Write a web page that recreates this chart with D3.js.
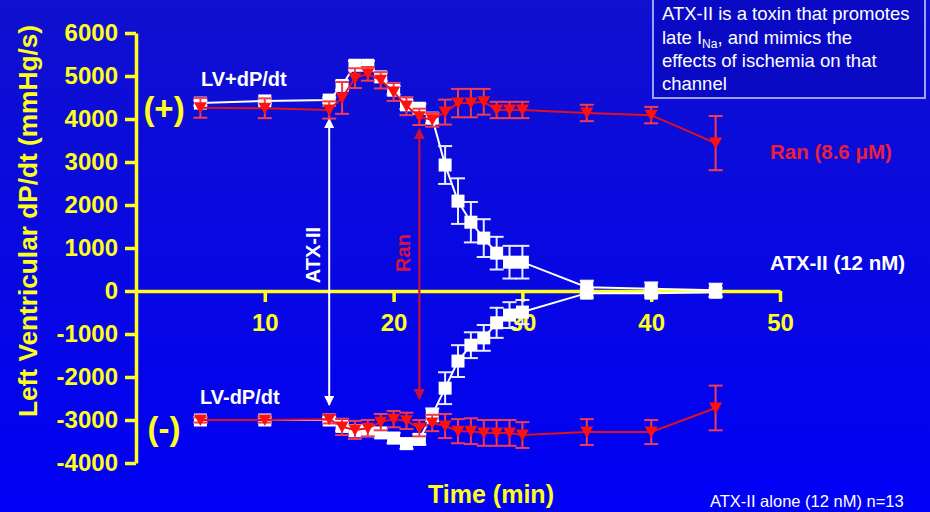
<!DOCTYPE html>
<html><head><meta charset="utf-8">
<script src="https://cdn.jsdelivr.net/npm/d3@7"></script>
<style>html,body{margin:0;padding:0;overflow:hidden;background:#0000ee}</style>
</head><body>
<script>
const times = [5,10,15,16,17,18,19,20,21,22,23,24,25,26,27,28,29,30,35,40,45];
const atxPos    = [4370,4420,4440,4780,5250,5250,4980,4670,4330,4250,4020,2930,2090,1600,1230,880,670,670,90,50,20];
const atxPosErr = [60,60,60,100,100,100,100,100,100,100,120,440,530,470,440,380,380,380,150,150,150];
const atxNeg    = [-3000,-3000,-3000,-3150,-3250,-3250,-3300,-3420,-3550,-3450,-2880,-2260,-1630,-1260,-1090,-740,-560,-490,-50,-50,-30];
const atxNegErr = [60,60,60,100,100,100,100,120,120,120,150,370,370,300,300,350,300,280,100,100,100];
const ranPos    = [4260,4250,4210,4490,4950,5050,4900,4630,4300,4050,3980,4160,4370,4370,4400,4210,4210,4210,4140,4090,3440];
const ranPosErr = [230,230,200,370,230,160,190,210,210,190,160,290,330,330,300,190,190,190,190,190,630];
const ranNeg    = [-3000,-3000,-2980,-3160,-3230,-3190,-3050,-2980,-3020,-3190,-3070,-3140,-3260,-3260,-3300,-3300,-3300,-3350,-3280,-3280,-2720];
const ranNegErr = [60,60,100,190,210,190,190,190,190,190,190,280,280,300,300,300,300,300,300,280,520];
const yTicks = [6000,5000,4000,3000,2000,1000,0,-1000,-2000,-3000,-4000];
const xTicks = [10,20,30,40,50];
const noteLines = ["ATX-II is a toxin that promotes", "late I", "effects of ischemia on that", "channel"];

const W = 930, H = 512;
const YEL = "#ffff1a", FONT = "'Liberation Sans', Arial, sans-serif";
const svg = d3.select("body").append("svg").attr("width", W).attr("height", H)
  .style("font-family", FONT);
const defs = svg.append("defs");
const grad = defs.append("linearGradient").attr("id","bg").attr("x1",0).attr("y1",0).attr("x2",0).attr("y2",1);
grad.append("stop").attr("offset","0%").attr("stop-color","#1010cf");
grad.append("stop").attr("offset","100%").attr("stop-color","#0000f5");
svg.append("rect").attr("width",W).attr("height",H).attr("fill","url(#bg)");

const x = d3.scaleLinear().domain([0,50]).range([136,780]);
const y = d3.scaleLinear().domain([-4000,6000]).range([463,33]);

// axes
const yAxis = svg.append("g").attr("transform",`translate(${x(0)},0)`)
  .call(d3.axisLeft(y).tickValues(yTicks).tickFormat(d => String(d)).tickSize(11).tickSizeOuter(0).tickPadding(7));
const xAxis = svg.append("g").attr("transform",`translate(0,${y(0)})`)
  .call(d3.axisBottom(x).tickValues(xTicks).tickFormat(d => String(d)).tickSize(11).tickSizeOuter(0).tickPadding(12));
[yAxis, xAxis].forEach(g => {
  g.selectAll("path,line").attr("stroke", YEL).attr("stroke-width", 3.5);
  g.selectAll("text").attr("fill", YEL).attr("font-size", 24).attr("font-weight","bold").attr("font-family",FONT);
});

// axis titles
svg.append("text").attr("transform",`translate(37,221) rotate(-90)`).attr("text-anchor","middle")
  .attr("fill",YEL).attr("font-size",25).attr("font-weight","bold")
  .attr("textLength",392).attr("lengthAdjust","spacingAndGlyphs").text("Left Ventricular dP/dt (mmHg/s)");
svg.append("text").attr("x",491).attr("y",503).attr("text-anchor","middle")
  .attr("fill",YEL).attr("font-size",25).attr("font-weight","bold").text("Time (min)");

// (+) / (-)
svg.append("text").attr("x",164).attr("y",120).attr("text-anchor","middle").attr("fill",YEL)
  .attr("font-size",33).attr("font-weight","bold").text("(+)");
svg.append("text").attr("x",164).attr("y",440).attr("text-anchor","middle").attr("fill",YEL)
  .attr("font-size",33).attr("font-weight","bold").text("(-)");
svg.append("text").attr("x",201).attr("y",86).attr("fill","#ffffff").attr("font-size",20).attr("font-weight","bold").text("LV+dP/dt");
svg.append("text").attr("x",200).attr("y",404).attr("fill","#ffffff").attr("font-size",20).attr("font-weight","bold").text("LV-dP/dt");

// arrows
function arrowHead(id, color){
  defs.append("marker").attr("id",id).attr("viewBox","0 0 10 10").attr("refX",9).attr("refY",5)
    .attr("markerWidth",5).attr("markerHeight",5).attr("orient","auto-start-reverse")
    .append("path").attr("d","M0,0L10,5L0,10z").attr("fill",color);
}
arrowHead("aw","#ffffff"); arrowHead("ar","#c8103c");
svg.append("line").attr("x1",x(15)).attr("x2",x(15)).attr("y1",119).attr("y2",405)
  .attr("stroke","#ffffff").attr("stroke-width",2).attr("marker-start","url(#aw)").attr("marker-end","url(#aw)");
svg.append("line").attr("x1",x(22)).attr("x2",x(22)).attr("y1",129).attr("y2",399)
  .attr("stroke","#c8103c").attr("stroke-width",2.2).attr("marker-start","url(#ar)").attr("marker-end","url(#ar)");
svg.append("text").attr("transform",`translate(320,255) rotate(-90)`).attr("text-anchor","middle")
  .attr("fill","#ffffff").attr("font-size",20).attr("font-weight","bold").text("ATX-II");
svg.append("text").attr("transform",`translate(410,253) rotate(-90)`).attr("text-anchor","middle")
  .attr("fill","#d8143c").attr("font-size",20).attr("font-weight","bold").text("Ran");

// series
function drawSeries(vals, errs, lineColor, errColor, marker){
  const g = svg.append("g");
  const pts = times.map((t,i)=>({t, v: vals[i], e: errs[i]}));
  g.append("path").datum(pts).attr("fill","none").attr("stroke",lineColor).attr("stroke-width",2)
    .attr("d", d3.line().x(d=>x(d.t)).y(d=>y(d.v)));
  const eb = g.selectAll("g.eb").data(pts).join("g").attr("stroke",errColor).attr("stroke-width",2);
  eb.append("line").attr("x1",d=>x(d.t)).attr("x2",d=>x(d.t)).attr("y1",d=>y(d.v+d.e)).attr("y2",d=>y(d.v-d.e));
  eb.append("line").attr("x1",d=>x(d.t)-7).attr("x2",d=>x(d.t)+7).attr("y1",d=>y(d.v+d.e)).attr("y2",d=>y(d.v+d.e));
  eb.append("line").attr("x1",d=>x(d.t)-7).attr("x2",d=>x(d.t)+7).attr("y1",d=>y(d.v-d.e)).attr("y2",d=>y(d.v-d.e));
  if (marker === "square") {
    g.selectAll("rect.m").data(pts).join("rect").attr("x",d=>x(d.t)-6.5).attr("y",d=>y(d.v)-6.5)
      .attr("width",13).attr("height",13).attr("fill","#ffffff");
  } else {
    g.selectAll("path.m").data(pts).join("path")
      .attr("d",d=>{const cx=x(d.t), cy=y(d.v); return `M${cx-6.5},${cy-5.5}L${cx+6.5},${cy-5.5}L${cx},${cy+6}Z`;})
      .attr("fill","#ff1010");
  }
}
drawSeries(atxPos, atxPosErr, "#ffffff", "#e8ecff", "square");
drawSeries(atxNeg, atxNegErr, "#ffffff", "#e8ecff", "square");
drawSeries(ranPos, ranPosErr, "#e01020", "#f03c50", "tri");
drawSeries(ranNeg, ranNegErr, "#e01020", "#f03c50", "tri");

// series labels
svg.append("text").attr("x",770).attr("y",159).attr("fill","#e8203a").attr("font-size",20.5).attr("font-weight","bold").text("Ran (8.6 \u03bcM)");
svg.append("text").attr("x",770).attr("y",270).attr("fill","#ffffff").attr("font-size",20.5).attr("font-weight","bold").text("ATX-II (12 nM)");

// note box
svg.append("rect").attr("x",653).attr("y",-2).attr("width",272).attr("height",100)
  .attr("fill","#0a0ac4").attr("stroke","#9aa0ff").attr("stroke-width",2);
const note = svg.append("text").attr("fill","#ffffff").attr("font-size",18.5);
note.append("tspan").attr("x",662).attr("y",20).text(noteLines[0]);
note.append("tspan").attr("x",662).attr("y",44).text(noteLines[1]);
note.append("tspan").attr("dy",4).attr("font-size",12).text("Na");
note.append("tspan").attr("dy",-4).text(", and mimics the");
note.append("tspan").attr("x",662).attr("y",67).text(noteLines[2]);
note.append("tspan").attr("x",662).attr("y",90).text(noteLines[3]);

// footnote
svg.append("text").attr("x",710).attr("y",507).attr("fill","#ffffff").attr("font-size",16.5).text("ATX-II alone (12 nM) n=13");
</script>
</body></html>
